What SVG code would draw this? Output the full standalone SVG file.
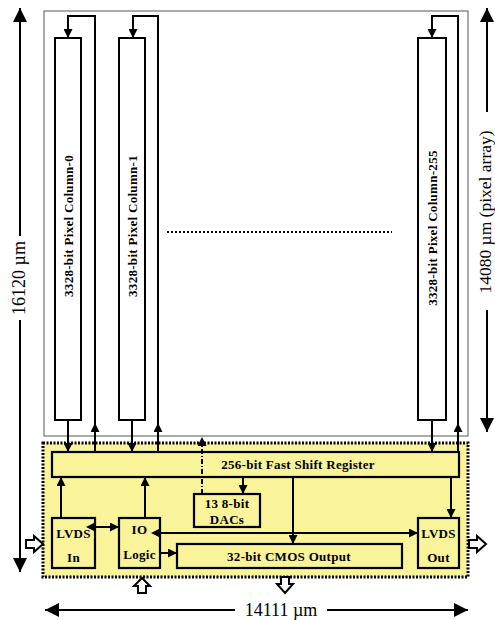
<svg xmlns="http://www.w3.org/2000/svg" width="495" height="620" viewBox="0 0 495 620">
<defs>
<marker id="ah" viewBox="0 0 10 10" refX="10" refY="5" markerWidth="4.5" markerHeight="4.5" markerUnits="strokeWidth" orient="auto"><path d="M0,0 L10,5 L0,10 z" fill="#000"/></marker>
<marker id="ahs" viewBox="0 0 10 10" refX="0" refY="5" markerWidth="4.5" markerHeight="4.5" markerUnits="strokeWidth" orient="auto-start-reverse"><path d="M0,0 L10,5 L0,10 z" fill="#000"/></marker>
<marker id="dim" viewBox="0 0 10 10" refX="10" refY="5" markerWidth="7" markerHeight="7" markerUnits="strokeWidth" orient="auto"><path d="M0,0 L10,5 L0,10 z" fill="#000"/></marker>
</defs>
<style>
.box{fill:#F9F39A;stroke:#000;stroke-width:2.2}
.col{fill:#fff;stroke:#000;stroke-width:2}
.ln{fill:none;stroke:#000;stroke-width:2}
.lb{font-family:"Liberation Serif",serif;font-weight:bold;font-size:13px;letter-spacing:0.3px;fill:#000;text-anchor:middle}
.dimt{font-family:"Liberation Serif",serif;font-size:18px;fill:#000;text-anchor:middle}
.hol{fill:#fff;stroke:#000;stroke-width:2}
</style>
<rect width="495" height="620" fill="#fff"/>
<g id="pixel-array">
<rect x="44" y="11" width="424" height="425" fill="#fff" stroke="#555" stroke-width="1"/>
<line x1="167" y1="232" x2="392" y2="232" stroke="#000" stroke-width="2" stroke-dasharray="2,2"/>
</g>
<g id="periphery">
<rect x="43" y="443" width="425" height="134" fill="#F9F39A" stroke="#000" stroke-width="3" stroke-dasharray="2,1.5"/>
</g>
<g id="col0">
<rect class="col" x="55" y="38" width="26" height="382"/>
<text class="lb" transform="translate(72.5,226) rotate(-90)">3328-bit Pixel Column-0</text>
</g>
<g id="col1">
<rect class="col" x="119" y="38" width="26" height="382"/>
<text class="lb" transform="translate(136.5,226) rotate(-90)">3328-bit Pixel Column-1</text>
</g>
<g id="col255">
<rect class="col" x="418" y="38" width="28" height="382"/>
<text class="lb" transform="translate(436.5,228) rotate(-90)">3328-bit  Pixel Column-255</text>
</g>
<g id="shift-register">
<rect class="box" x="52" y="452" width="407" height="25"/>
<text class="lb" x="298" y="469">256-bit Fast Shift Register</text>
</g>
<g id="dacs">
<rect class="box" x="194" y="494" width="66" height="33"/>
<text class="lb" x="227" y="508">13 8-bit</text>
<text class="lb" x="227" y="524">DACs</text>
</g>
<g id="lvds-in">
<rect class="box" x="52" y="518" width="43" height="50"/>
<text class="lb" x="73.5" y="538">LVDS</text>
<text class="lb" x="73.5" y="562">In</text>
</g>
<g id="io-logic">
<rect class="box" x="119" y="518" width="41" height="50"/>
<text class="lb" x="139.5" y="534">IO</text>
<text class="lb" x="139.5" y="559">Logic</text>
</g>
<g id="cmos-output">
<rect class="box" x="177" y="544" width="225" height="24"/>
<text class="lb" x="289" y="561">32-bit CMOS Output</text>
</g>
<g id="lvds-out">
<rect class="box" x="418" y="518" width="41" height="50"/>
<text class="lb" x="438.5" y="538">LVDS</text>
<text class="lb" x="438.5" y="562">Out</text>
</g>
<g id="connectors">
<path class="ln" d="M68,420 V452" marker-end="url(#ah)"/>
<path class="ln" d="M95,452 V423" marker-end="url(#ah)"/>
<path class="ln" d="M95,423 V16 H68 V38" marker-end="url(#ah)"/>
<path class="ln" d="M132,420 V452" marker-end="url(#ah)"/>
<path class="ln" d="M158,452 V423" marker-end="url(#ah)"/>
<path class="ln" d="M158,423 V16 H133 V38" marker-end="url(#ah)"/>
<path class="ln" d="M432,420 V452" marker-end="url(#ah)"/>
<path class="ln" d="M458,452 V423" marker-end="url(#ah)"/>
<path class="ln" d="M458,423 V16 H432 V38" marker-end="url(#ah)"/>
<path class="ln" d="M202,494 V437" stroke-dasharray="5,2,1,2" marker-end="url(#ah)"/>
<path class="ln" d="M243,477 V494" marker-end="url(#ah)"/>
<path class="ln" d="M61,518 V477" marker-end="url(#ah)"/>
<path class="ln" d="M145,518 V477" marker-end="url(#ah)"/>
<path class="ln" d="M95,527 H119" marker-start="url(#ahs)" marker-end="url(#ah)"/>
<path class="ln" d="M160,553 H177" marker-end="url(#ah)"/>
<path class="ln" d="M160,533 H418" marker-start="url(#ahs)" marker-end="url(#ah)"/>
<path class="ln" d="M293,477 V544" marker-end="url(#ah)"/>
<path class="ln" d="M451,477 V518" marker-end="url(#ah)"/>
<path class="hol" d="M26,540 H34 V536 L43,544 L34,552 V548 H26 Z"/>
<path class="hol" d="M469,540 H477 V536 L486,544 L477,552 V548 H469 Z"/>
<path class="hol" d="M138,593 V586 H134 L142,578 L150,586 H146 V593 Z"/>
<path class="hol" d="M281,577 V584 H277 L285,593 L293,584 H289 V577 Z"/>
</g>
<g id="dimensions">
<path class="ln" d="M20,236 V8" marker-end="url(#dim)"/>
<path class="ln" d="M20,320 V572" marker-end="url(#dim)"/>
<text class="dimt" transform="translate(24.5,278) rotate(-90)">16120 µm</text>
<path class="ln" d="M487,112 V8" marker-end="url(#dim)"/>
<path class="ln" d="M487,310 V432" marker-end="url(#dim)"/>
<text class="dimt" style="font-size:17.5px" transform="translate(490.5,212) rotate(-90)">14080 µm (pixel array)</text>
<path class="ln" d="M235,610 H45" marker-end="url(#dim)"/>
<path class="ln" d="M327,610 H468" marker-end="url(#dim)"/>
<text class="dimt" x="281" y="616">14111 µm</text>
</g>
</svg>
